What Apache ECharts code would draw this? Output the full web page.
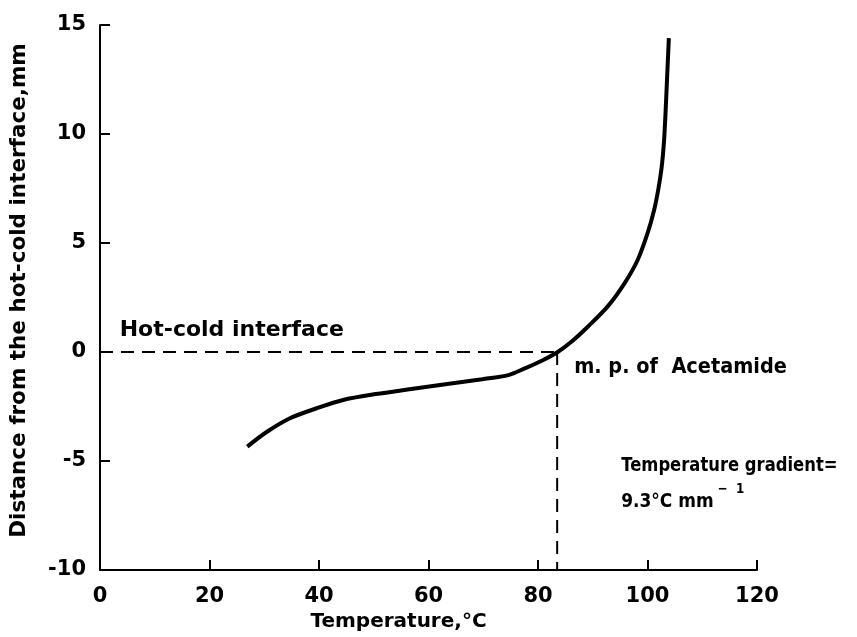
<!DOCTYPE html>
<html>
<head>
<meta charset="utf-8">
<script src="https://cdn.jsdelivr.net/npm/echarts@6/dist/echarts.min.js"></script>
<style>
html,body{margin:0;padding:0;background:#fff;overflow:hidden;}
#chart{width:857px;height:637px;}
</style>
</head>
<body>
<div id="chart"></div>
<script>
// ---- data ----
const xTicks = [0, 20, 40, 60, 80, 100, 120];
const yTicks = [-10, -5, 0, 5, 10, 15];
const temperature = [26.9, 30.5, 34.7, 39.6, 44.4, 50.4, 56.5, 63.1, 69.8, 74.6, 77.6, 80.7, 83.6, 86.1, 89.1, 92.7, 95.8, 98.2, 100.0, 101.2, 102.0, 102.6, 103.0, 103.3, 103.6, 103.9];
const distance    = [-4.34, -3.66, -3.04, -2.58, -2.20, -1.93, -1.71, -1.48, -1.25, -1.06, -0.75, -0.40, 0.0, 0.47, 1.16, 2.08, 3.15, 4.22, 5.44, 6.50, 7.50, 8.50, 9.60, 11.0, 12.7, 14.4];
const meltingPoint = 83.5;
const interfaceDistance = 0;
const labels = {
  interface: 'Hot-cold interface',
  mp: 'm. p. of  Acetamide',
  gradient1: 'Temperature gradient=',
  gradient2a: '9.3°C mm',
  gradient2b: '−  1',
  xName: 'Temperature,°C',
  yName: 'Distance from the hot-cold interface,mm'
};

const FONT = '"DejaVu Sans", sans-serif';
const chart = echarts.init(document.getElementById('chart'), null, {renderer: 'canvas'});

const curve = temperature.map((t, i) => [t, distance[i]]);
const yMin = yTicks[0];

const axisCommon = {
  axisLine: {show: true, onZero: false, lineStyle: {color: '#000', width: 2}},
  axisTick: {show: true, inside: true, length: 10, lineStyle: {color: '#000', width: 2}},
  splitLine: {show: false},
  axisLabel: {color: '#000', fontFamily: FONT, fontSize: 21, fontWeight: 'bold'},
  nameTextStyle: {color: '#000', fontFamily: FONT, fontSize: 20, fontWeight: 'bold'}
};

chart.setOption({
  animation: false,
  backgroundColor: '#fff',
  grid: {left: 95, right: 100, top: 25, bottom: 67, containLabel: false},
  xAxis: Object.assign({}, axisCommon, {
    type: 'value', min: xTicks[0], max: xTicks[xTicks.length - 1], interval: 20,
    name: labels.xName, nameLocation: 'middle', nameGap: 40,
    nameTextStyle: Object.assign({}, axisCommon.nameTextStyle, {padding: [0, 60, 0, 0]}),
    axisLabel: Object.assign({}, axisCommon.axisLabel, {margin: 16})
  }),
  yAxis: Object.assign({}, axisCommon, {
    type: 'value', min: yTicks[0], max: yTicks[yTicks.length - 1], interval: 5,
    name: labels.yName, nameLocation: 'middle', nameGap: 70,
    nameTextStyle: Object.assign({}, axisCommon.nameTextStyle, {fontSize: 21.5, padding: [0, 0, 0, 14]}),
    axisLabel: Object.assign({}, axisCommon.axisLabel, {margin: 14})
  }),
  series: [
    {
      type: 'line', data: curve, smooth: 0.3, showSymbol: false,
      lineStyle: {color: '#000', width: 4}, z: 3
    },
    {
      type: 'line', data: [[xTicks[0], interfaceDistance], [meltingPoint, interfaceDistance]],
      showSymbol: false, lineStyle: {color: '#000', width: 2, type: [13, 8]}, z: 2
    },
    {
      type: 'line', data: [[meltingPoint, interfaceDistance], [meltingPoint, yMin]],
      showSymbol: false, lineStyle: {color: '#000', width: 2, type: [13, 8]}, z: 2
    }
  ]
});

function px(x, y) { return chart.convertToPixel({gridIndex: 0}, [x, y]); }
const pI = px(3.6, interfaceDistance);
const pM = px(meltingPoint, interfaceDistance);
const textStyle = {fill: '#000', font: 'bold 20px ' + FONT, textVerticalAlign: 'middle'};

chart.setOption({
  graphic: [
    {type: 'text', x: pI[0], y: pI[1] - 22, style: Object.assign({}, textStyle, {text: labels.interface, font: 'bold 22px ' + FONT})},
    {type: 'text', x: pM[0] + 17, y: pM[1] + 16, scaleX: 0.92, style: Object.assign({}, textStyle, {text: labels.mp, font: 'bold 21px ' + FONT})},
    {type: 'text', x: pM[0] + 64, y: pM[1] + 114, scaleX: 0.82, style: Object.assign({}, textStyle, {text: labels.gradient1, font: 'bold 20px ' + FONT})},
    {type: 'text', x: pM[0] + 64, y: pM[1] + 130, scaleX: 0.85, style: {
      text: '{a|' + labels.gradient2a + '}{b|' + labels.gradient2b + '}',
      rich: {
        a: {fill: '#000', font: 'bold 20px ' + FONT, verticalAlign: 'bottom', lineHeight: 30},
        b: {fill: '#000', font: 'bold 14px ' + FONT, verticalAlign: 'top', padding: [0, 0, 0, 5], lineHeight: 30}
      }
    }}
  ]
});
</script>
</body>
</html>
